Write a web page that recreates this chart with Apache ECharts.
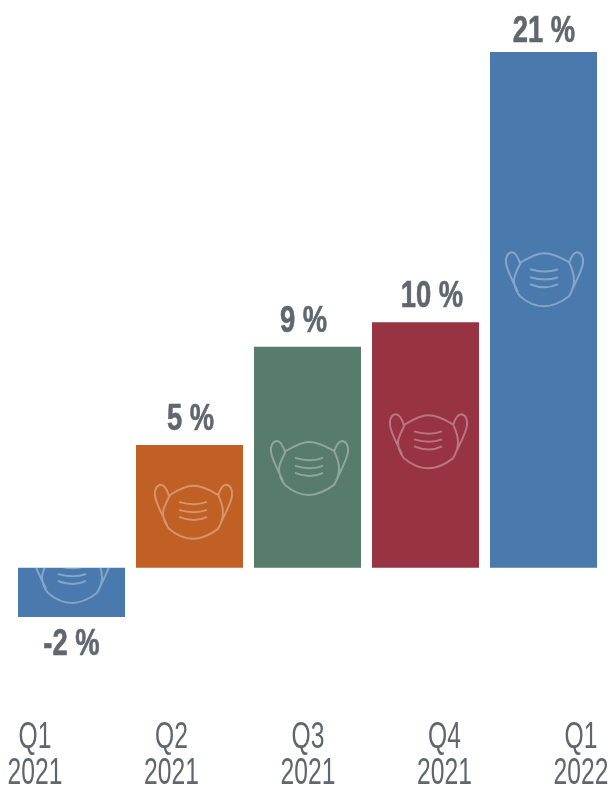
<!DOCTYPE html>
<html>
<head>
<meta charset="utf-8">
<style>html,body{margin:0;padding:0;background:#fff}#c{width:611px;height:787px}</style>
<script src="https://cdn.jsdelivr.net/npm/echarts@6/dist/echarts.min.js"></script>
</head>
<body>
<div id="c"></div>
<script>
const categories = ['Q1\n2021', 'Q2\n2021', 'Q3\n2021', 'Q4\n2021', 'Q1\n2022'];
const values = [-2, 5, 9, 10, 21];
const maskLevels = [-0.33, 2.28, 4.07, 5.15, 11.75];
const colors = ['#4A79AE', '#C06024', '#577B6D', '#973343', '#4A79AE'];
const maskShift = [0.5, 3.5, 1.5, 2.5, 0.5];
const labelShift = [0, 1, -4, 6.5, 0.5];

const FONT = '"Liberation Sans", sans-serif';
const TEXT = '#5F666E';
const MASK_PATH =
  'M-23,-17 C-13,-23 -6,-26 0,-26 C6,-26 15,-23 25,-17 C28,-11 30,-4 30,1 C30,7 28,12 25,17 C17,23 8,27 0,27 C-8,27 -17,23 -24,17 C-28,12 -30,7 -30,1 C-30,-4 -26,-11 -23,-17 Z ' +
  'M-24,-16 C-27,-25 -30,-27 -32,-27 C-36,-27 -39,-22 -38,-16 C-37,-8 -30,4 -26,13 ' +
  'M25,-16 C28,-25 31,-27 33,-27 C37,-27 40,-22 39,-16 C38,-8 31,4 27,13 ' +
  'M-14,-10 C-4,-7 6,-7 14,-10 M-14,-2 C-4,1 6,1 14,-2 M-14,5 C-4,9 6,9 14,5';

const chart = echarts.init(document.getElementById('c'), null, {renderer: 'canvas'});
chart.setOption({
  animation: false,
  backgroundColor: '#ffffff',
  grid: [
    {left: 12.5, width: 590, top: 52, height: 565},
    {left: 35, width: 546, top: 700, height: 10}
  ],
  xAxis: [
    {type: 'category', gridIndex: 0, data: categories, show: false},
    {type: 'category', gridIndex: 1, data: categories, boundaryGap: false, show: false}
  ],
  yAxis: [
    {type: 'value', gridIndex: 0, min: -2, max: 21, show: false},
    {type: 'value', gridIndex: 1, show: false}
  ],
  series: [
    {
      type: 'bar', xAxisIndex: 0, yAxisIndex: 0, barWidth: 107,
      data: values.map((v, i) => ({value: v, itemStyle: {color: colors[i]}}))
    },
    {
      // mask icon, clipped to its bar
      type: 'custom', xAxisIndex: 0, yAxisIndex: 0, z: 5, silent: true, clip: false,
      data: maskLevels.map((m, i) => [i, m, values[i]]),
      renderItem: function (params, api) {
        const i = api.value(0);
        const c = api.coord([i, api.value(1)]);
        const zero = api.coord([i, 0])[1];
        const end = api.coord([i, api.value(2)])[1];
        const top = Math.min(zero, end), bottom = Math.max(zero, end);
        const cx = c[0] + maskShift[i], cy = c[1];
        return {
          type: 'path',
          x: cx, y: cy,
          shape: {pathData: MASK_PATH},
          style: {fill: 'none', stroke: 'rgba(255,255,255,0.33)', lineWidth: 2},
          clipPath: {type: 'rect', shape: {x: -60, y: top - cy, width: 120, height: bottom - top}}
        };
      }
    },
    {
      // value labels: condensed by horizontal scaling
      type: 'custom', xAxisIndex: 0, yAxisIndex: 0, z: 6, silent: true, clip: false,
      data: values.map((v, i) => [i, v]),
      renderItem: function (params, api) {
        const i = api.value(0), v = api.value(1);
        const p = api.coord([i, v]);
        const y = v < 0 ? p[1] + 28 : Math.max(32, p[1] - 25);
        return {
          type: 'text', x: p[0] + labelShift[i], y: y, scaleX: 0.76,
          style: {
            text: v + ' %', fill: TEXT, font: 'bold 36px ' + FONT,
            stroke: TEXT, lineWidth: 0.6,
            align: 'center', verticalAlign: 'middle'
          }
        };
      }
    },
    {
      // quarter labels: condensed by horizontal scaling
      type: 'custom', xAxisIndex: 1, yAxisIndex: 1, z: 6, silent: true, clip: false,
      data: categories.map((c, i) => [i, 0]),
      renderItem: function (params, api) {
        const i = api.value(0);
        const x = api.coord([i, 0])[0];
        return {
          type: 'text', x: x, y: 756.5, scaleX: 0.685,
          style: {
            text: categories[i], fill: TEXT, font: '36px ' + FONT, lineHeight: 36,
            align: 'center', verticalAlign: 'middle'
          }
        };
      }
    }
  ]
});
</script>
</body>
</html>
